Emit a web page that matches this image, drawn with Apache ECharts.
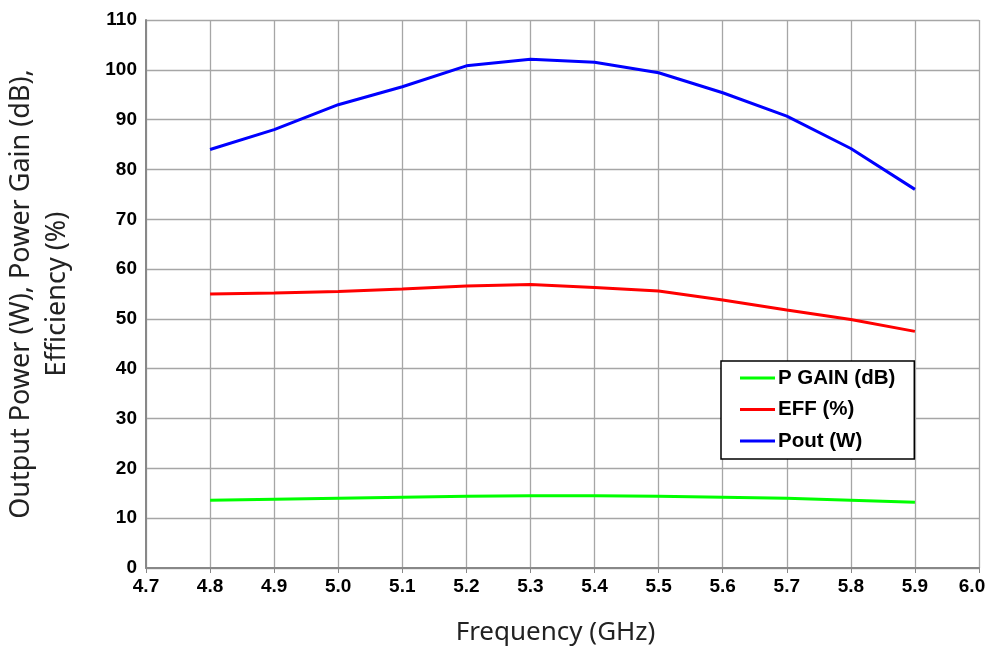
<!DOCTYPE html>
<html>
<head>
<meta charset="utf-8">
<script src="https://cdn.jsdelivr.net/npm/echarts@6/dist/echarts.min.js"></script>
<style>html,body{margin:0;padding:0;background:#fff}#c{width:992px;height:654px}</style>
</head>
<body>
<div id="c"></div>
<script>
const categories = ['4.7','4.8','4.9','5.0','5.1','5.2','5.3','5.4','5.5','5.6','5.7','5.8','5.9','6.0'];
const pGain = [null,13.6,13.8,14.0,14.2,14.4,14.5,14.5,14.4,14.2,14.0,13.6,13.2,null];
const eff   = [null,55.0,55.2,55.5,56.0,56.6,56.9,56.3,55.6,53.8,51.8,49.9,47.5,null];
const pout  = [null,84.0,88.0,93.0,96.6,100.8,102.1,101.5,99.4,95.4,90.7,84.2,76.0,null];

const axisData = categories.map((c, i) =>
  i === categories.length - 1 ? {value: c, textStyle: {padding: [0, 14, 0, 0]}} : c);

const chart = echarts.init(document.getElementById('c'));
const lbl = {fontFamily:'Liberation Sans, Arial, sans-serif', fontWeight:'bold', fontSize:19, color:'#000'};
chart.setOption({
  animation:false,
  grid:{left:146,right:13,top:20,bottom:86,containLabel:false,outerBoundsMode:'none'},
  legend:{
    orient:'vertical', left:721, top:361,
    backgroundColor:'#fff', borderColor:'#000', borderWidth:1.5,
    padding:[6,19,7,19], itemGap:9.5, itemWidth:35, itemHeight:3, icon:'rect',
    textStyle:{fontFamily:'Liberation Sans, Arial, sans-serif', fontWeight:'bold', fontSize:20.5, lineHeight:22, color:'#000', padding:[0,0,0,-2]},
    data:['P GAIN (dB)','EFF (%)','Pout (W)']
  },
  xAxis:{
    type:'category', data:axisData, boundaryGap:false,
    name:'Frequency (GHz)', nameLocation:'middle', nameGap:52,
    nameTextStyle:{fontFamily:'Noto Sans, Open Sans, sans-serif', fontSize:26, color:'#222', padding:[0,14,0,0]},
    axisLine:{lineStyle:{color:'#888', width:2}},
    axisTick:{show:true, length:5, lineStyle:{color:'#888'}},
    axisLabel:Object.assign({margin:9}, lbl),
    splitLine:{show:true, lineStyle:{color:'#a6a6a6', width:1.3}}
  },
  yAxis:{
    type:'value', min:0, max:110, interval:10,
    name:'Output Power (W), Power Gain (dB),\nEfficiency (%)', nameLocation:'middle', nameGap:71, nameRotate:90,
    nameTextStyle:{fontFamily:'Noto Sans, Open Sans, sans-serif', fontSize:27, color:'#222', lineHeight:36},
    axisLine:{show:true, lineStyle:{color:'#888', width:2}},
    axisTick:{show:false},
    axisLabel:Object.assign({margin:9}, lbl),
    splitLine:{show:true, lineStyle:{color:'#a6a6a6', width:1.3}}
  },
  series:[
    {name:'P GAIN (dB)', type:'line', data:pGain, showSymbol:false, lineStyle:{color:'#00ff00', width:3}, itemStyle:{color:'#00ff00'}},
    {name:'EFF (%)', type:'line', data:eff, showSymbol:false, lineStyle:{color:'#ff0000', width:3}, itemStyle:{color:'#ff0000'}},
    {name:'Pout (W)', type:'line', data:pout, showSymbol:false, lineStyle:{color:'#0000ff', width:3}, itemStyle:{color:'#0000ff'}}
  ]
});
</script>
</body>
</html>
